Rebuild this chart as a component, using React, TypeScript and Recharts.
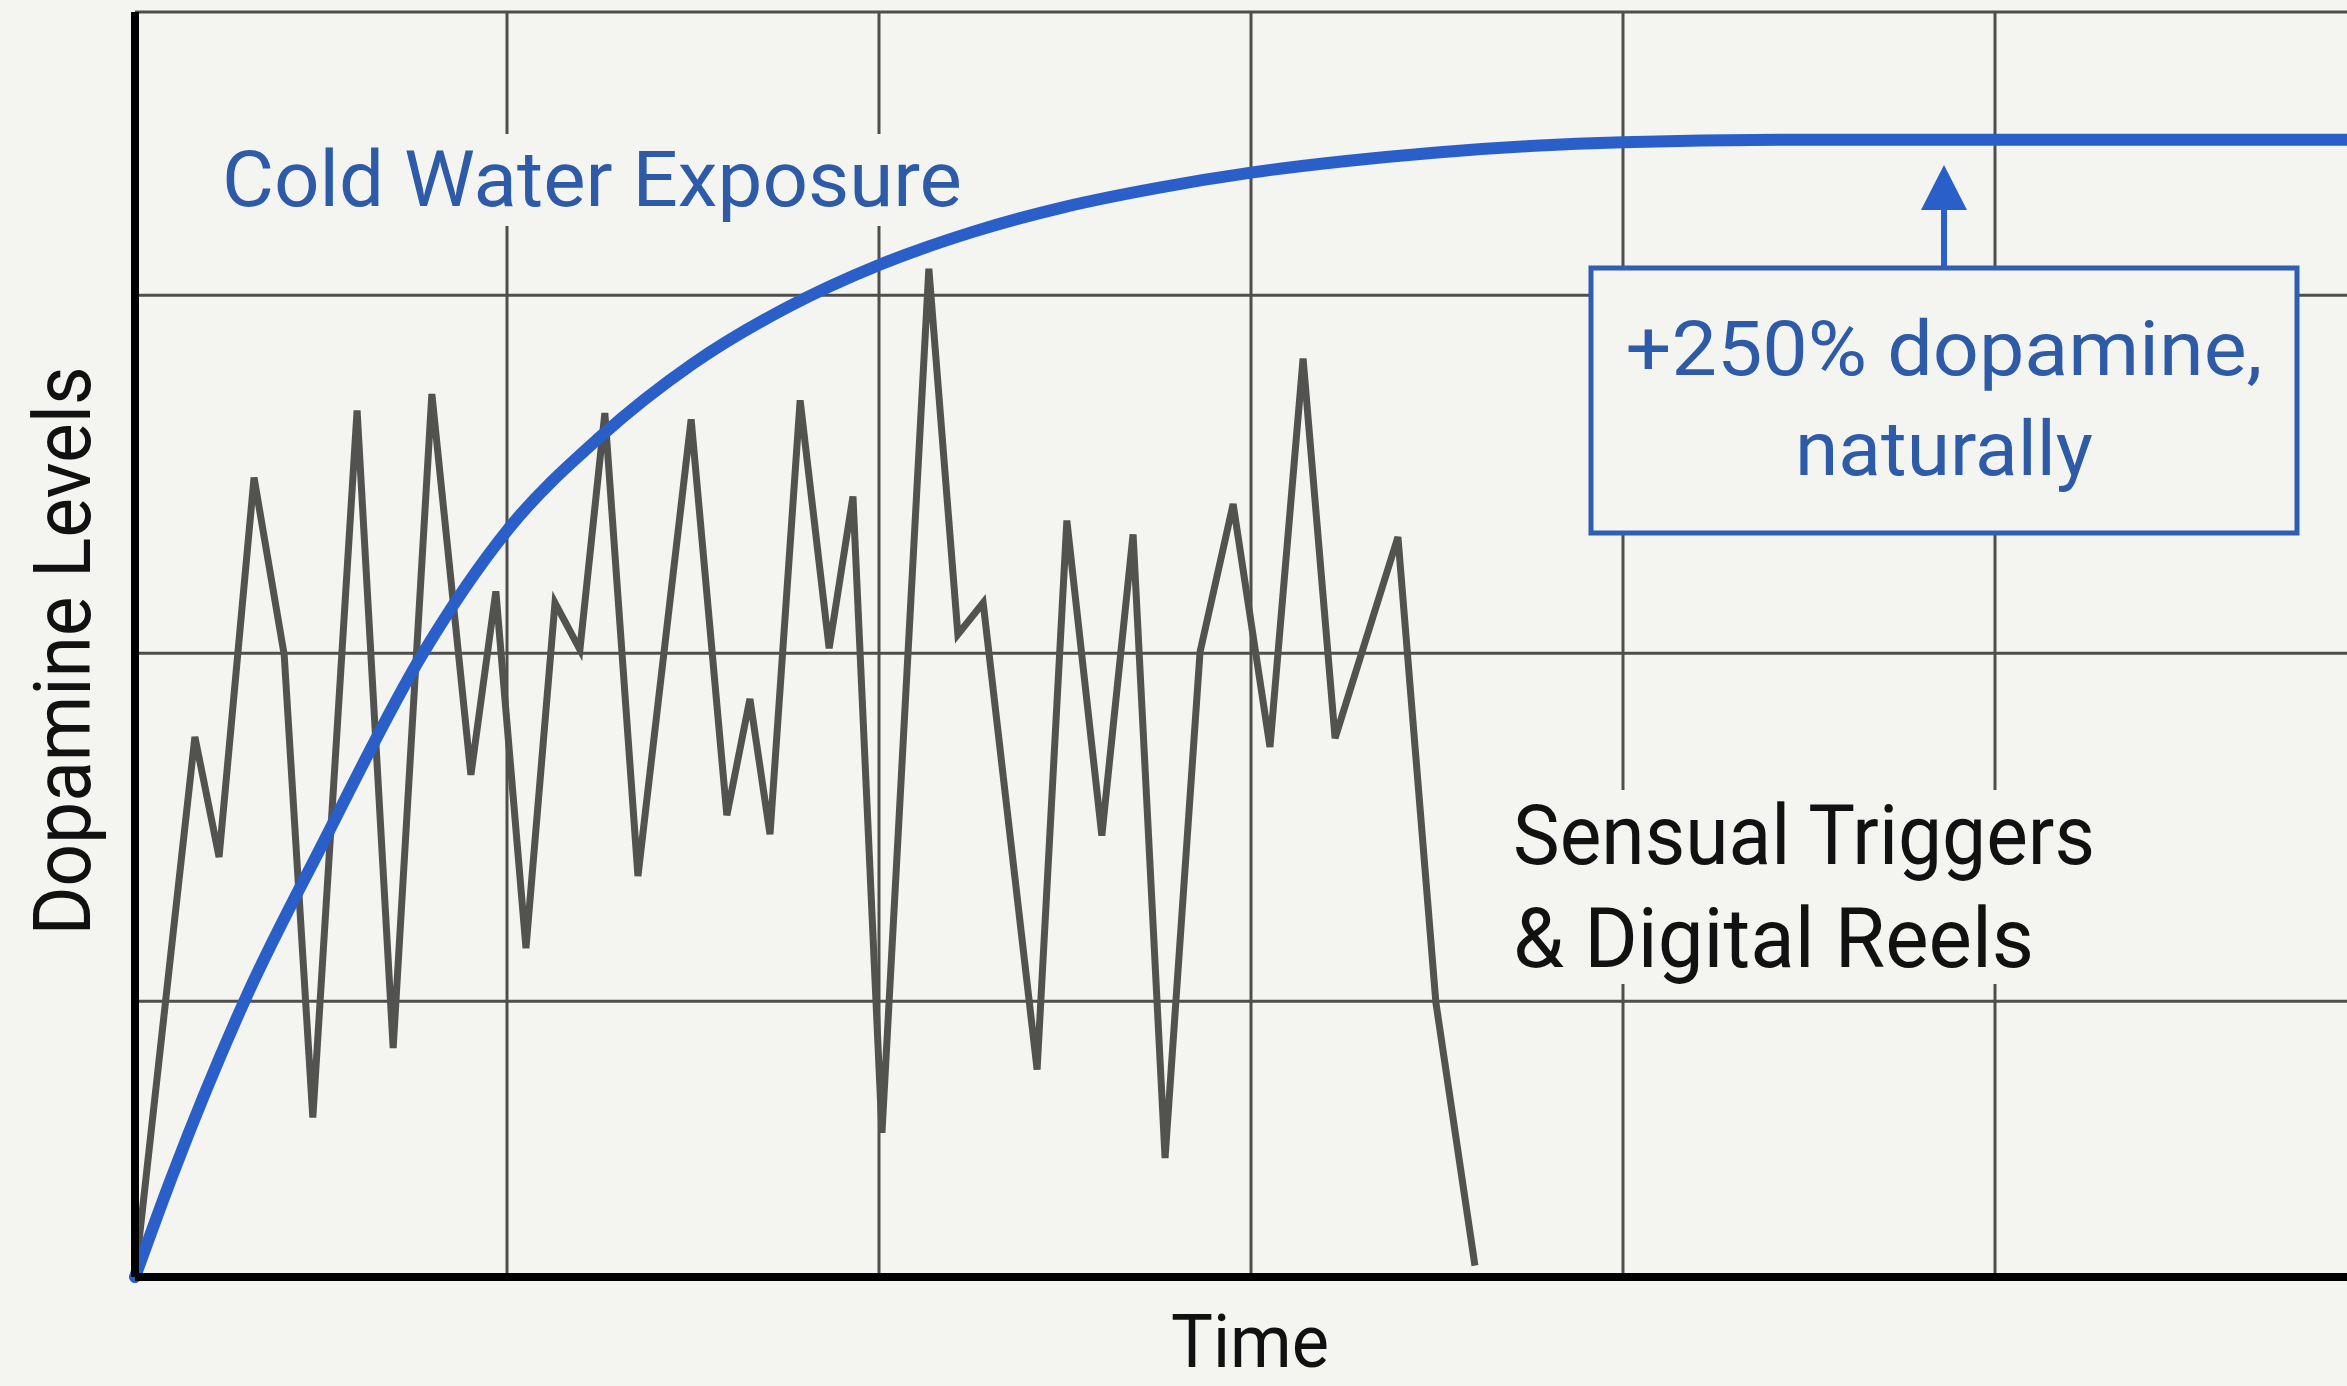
import React from "react";
import {
  LineChart,
  Line,
  XAxis,
  YAxis,
  CartesianGrid,
  ReferenceLine,
} from "recharts";

// time runs 0..60 (10 per grid column), level runs 0..100
const gridTimes = [10, 20, 30, 40, 50, 60];
const gridLevels = [21.8, 49.3, 77.6, 100];

// Sensual Triggers & Digital Reels (jagged grey line)
const reelTimes = [
  0, 1.61, 2.26, 3.2, 4.01, 4.78, 5.97, 6.94, 7.98, 9.03, 9.7, 10.51, 11.29,
  11.96, 12.63, 13.52, 14.95, 15.91, 16.53, 17.07, 17.88, 18.66, 19.3, 20.08,
  21.34, 22.12, 22.8, 24.25, 25.05, 25.99, 26.83, 27.69, 28.63, 29.52, 30.51,
  31.4, 32.26, 33.95, 34.97, 36.02,
];
const reelLevels = [
  0, 42.7, 33.2, 63.2, 49.2, 12.6, 68.5, 18.1, 69.8, 39.7, 54.2, 26.0, 53.3,
  49.6, 68.3, 31.7, 67.8, 36.5, 45.7, 35.0, 69.3, 49.7, 61.7, 11.4, 79.7, 50.8,
  53.3, 16.4, 59.8, 34.9, 58.7, 9.4, 49.4, 61.1, 41.9, 72.6, 42.6, 58.5, 21.7,
  0.9,
];

// Cold Water Exposure (smooth blue curve)
const coldTimes = [
  0, 1, 3, 5, 7.74, 10, 12.5, 15, 17.5, 20, 22.5, 25, 27.5, 30, 32.5, 35, 37.5,
  40, 45, 50, 60,
];
const coldLevels = [
  0, 8.0, 22.2, 34.0, 49.3, 59.0, 66.4, 72.2, 76.6, 80.0, 82.6, 84.6, 86.1,
  87.3, 88.2, 88.9, 89.4, 89.7, 89.9, 89.9, 89.9,
];

const reelData = reelTimes.map((t, i) => ({ t, v: reelLevels[i] }));
const coldData = coldTimes.map((t, i) => ({ t, v: coldLevels[i] }));

const BG = "#f4f4f0";
const BLUE = "#2a5fc9";
const BLUE_TEXT = "#2d5ba8";
const FONT = "Roboto, 'Liberation Sans', Arial, sans-serif";

export default function App() {
  return (
    <div
      style={{
        position: "fixed",
        left: 0,
        top: 0,
        width: 2347,
        height: 1386,
        overflow: "hidden",
        background: BG,
      }}
    >
      <LineChart
        width={2400}
        height={1386}
        margin={{ top: 12, right: 33, bottom: 109, left: 135 }}
      >
        <XAxis type="number" dataKey="t" domain={[0, 60]} hide />
        <YAxis type="number" domain={[0, 100]} hide />
        <CartesianGrid
          verticalValues={gridTimes}
          horizontalValues={gridLevels}
          stroke="#4e4e4c"
          strokeWidth={3}
        />
        <Line
          data={reelData}
          dataKey="v"
          type="linear"
          stroke="#525250"
          strokeWidth={7}
          dot={false}
          isAnimationActive={false}
        />
        <Line
          data={coldData}
          dataKey="v"
          type="monotone"
          stroke={BLUE}
          strokeWidth={12}
          strokeLinecap="round"
          dot={false}
          isAnimationActive={false}
        />
        <ReferenceLine x={0} stroke="#000" strokeWidth={8} />
        <ReferenceLine y={0} stroke="#000" strokeWidth={8} />
      </LineChart>

      <svg
        width={2347}
        height={1386}
        style={{ position: "absolute", left: 0, top: 0, pointerEvents: "none" }}
        fontFamily={FONT}
      >
        {/* y axis title */}
        <text
          x={90}
          y={651}
          transform="rotate(-90, 90, 651)"
          textAnchor="middle"
          fontSize={80}
          fill="#111"
          textLength={569}
          lengthAdjust="spacingAndGlyphs"
        >
          Dopamine Levels
        </text>
        {/* x axis title */}
        <text
          x={1250}
          y={1367}
          textAnchor="middle"
          fontSize={74}
          fill="#111"
          textLength={158}
          lengthAdjust="spacingAndGlyphs"
        >
          Time
        </text>

        {/* Cold Water Exposure label */}
        <rect x={215} y={134} width={755} height={92} fill={BG} />
        <text
          x={222}
          y={206}
          fontSize={78}
          fill={BLUE_TEXT}
          textLength={740}
          lengthAdjust="spacingAndGlyphs"
        >
          Cold Water Exposure
        </text>

        {/* Sensual label */}
        <rect x={1505} y={790} width={600} height={194} fill={BG} />
        <text
          x={1513}
          y={864}
          fontSize={84}
          fill="#111"
          textLength={582}
          lengthAdjust="spacingAndGlyphs"
        >
          Sensual Triggers
        </text>
        <text
          x={1513}
          y={967}
          fontSize={84}
          fill="#111"
          textLength={521}
          lengthAdjust="spacingAndGlyphs"
        >
          &amp; Digital Reels
        </text>

        {/* callout box with arrow */}
        <line x1={1944} y1={268} x2={1944} y2={205} stroke={BLUE} strokeWidth={6} />
        <polygon points="1944,165 1921,210 1967,210" fill={BLUE} />
        <rect
          x={1591}
          y={268}
          width={706}
          height={265}
          fill={BG}
          stroke="#2e5fb3"
          strokeWidth={5}
        />
        <text
          x={1944}
          y={375}
          textAnchor="middle"
          fontSize={76}
          fill={BLUE_TEXT}
          textLength={637}
          lengthAdjust="spacingAndGlyphs"
        >
          +250% dopamine,
        </text>
        <text
          x={1944}
          y={475}
          textAnchor="middle"
          fontSize={76}
          fill={BLUE_TEXT}
          textLength={298}
          lengthAdjust="spacingAndGlyphs"
        >
          naturally
        </text>
      </svg>
    </div>
  );
}
